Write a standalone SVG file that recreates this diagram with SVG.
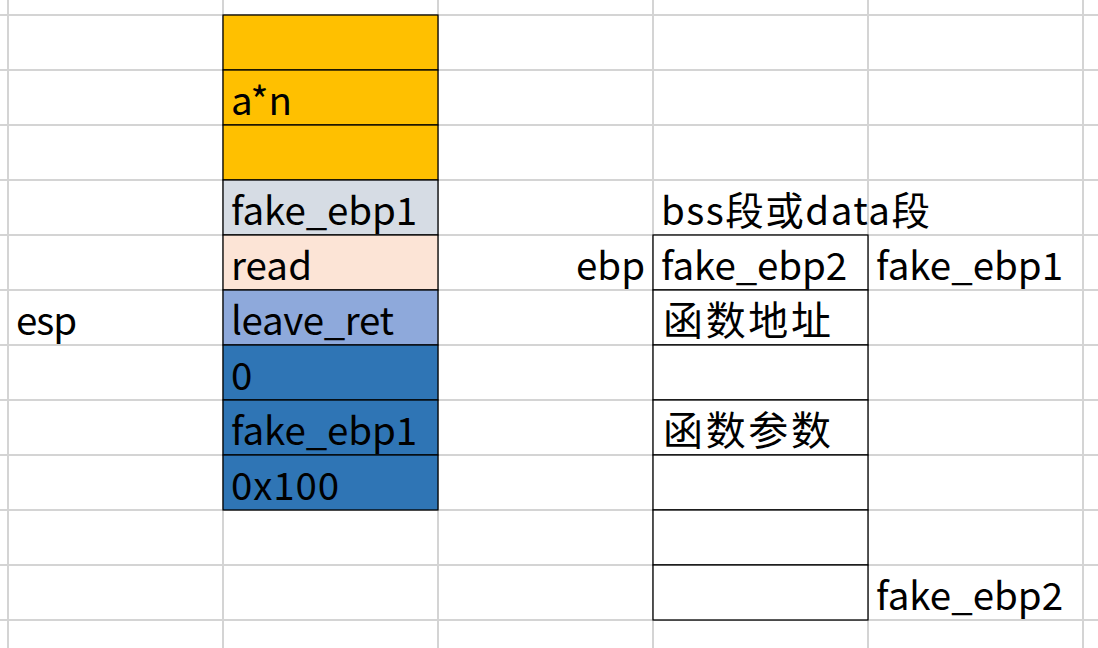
<svg xmlns="http://www.w3.org/2000/svg" width="1098" height="648" viewBox="0 0 1098 648">
<style>
.grid{stroke:#d4d4d4;stroke-width:2;fill:none}
.cell{stroke:#000;stroke-width:1.3}
.t{font-family:"Noto Sans CJK SC","Liberation Sans",sans-serif;font-size:38.5px;fill:#000}
.c{font-size:40px}
</style>
<rect width="1098" height="648" fill="#fff"/>
<g id="grid" class="grid">
<path d="M8 0V648M223 0V648M438 0V648M653 0V648M868 0V648M1083 0V648"/>
<path d="M0 15H1098M0 70H1098M0 125H1098M0 180H1098M0 235H1098M0 290H1098M0 345H1098M0 400H1098M0 455H1098M0 510H1098M0 565H1098M0 620H1098"/>
</g>
<g id="stack">
<rect class="cell" x="223" y="15" width="215" height="55" fill="#FFC000"/>
<rect class="cell" x="223" y="70" width="215" height="55" fill="#FFC000"/>
<rect class="cell" x="223" y="125" width="215" height="55" fill="#FFC000"/>
<rect class="cell" x="223" y="180" width="215" height="55" fill="#D6DCE4"/>
<rect class="cell" x="223" y="235" width="215" height="55" fill="#FCE4D6"/>
<rect class="cell" x="223" y="290" width="215" height="55" fill="#8EA9DB"/>
<rect class="cell" x="223" y="345" width="215" height="55" fill="#2F75B5"/>
<rect class="cell" x="223" y="400" width="215" height="55" fill="#2F75B5"/>
<rect class="cell" x="223" y="455" width="215" height="55" fill="#2F75B5"/>
<text class="t" x="231" y="115" textLength="61">a*n</text>
<text class="t" x="231" y="225" textLength="186">fake_ebp1</text>
<text class="t" x="231" y="280" textLength="81">read</text>
<text class="t" x="231" y="335" textLength="163">leave_ret</text>
<text class="t" x="231" y="390">0</text>
<text class="t" x="231" y="445" textLength="186">fake_ebp1</text>
<text class="t" x="231" y="500" textLength="108">0x100</text>
</g>
<g id="esp"><text class="t" x="16" y="335" textLength="61">esp</text></g>
<g id="ebp"><text class="t" x="576" y="280" textLength="69">ebp</text></g>
<g id="bss">
<text class="t" x="661" y="225" textLength="269">bss段或data段</text>
<rect class="cell" x="653" y="235" width="215" height="55" fill="#fff"/>
<rect class="cell" x="653" y="290" width="215" height="55" fill="#fff"/>
<rect class="cell" x="653" y="345" width="215" height="55" fill="#fff"/>
<rect class="cell" x="653" y="400" width="215" height="55" fill="#fff"/>
<rect class="cell" x="653" y="455" width="215" height="55" fill="#fff"/>
<rect class="cell" x="653" y="510" width="215" height="55" fill="#fff"/>
<rect class="cell" x="653" y="565" width="215" height="55" fill="#fff"/>
<text class="t" x="661" y="280" textLength="186">fake_ebp2</text>
<text class="t c" x="663" y="335" textLength="168">函数地址</text>
<text class="t c" x="663" y="445" textLength="168">函数参数</text>
</g>
<g id="labels">
<text class="t" x="876" y="280" textLength="187">fake_ebp1</text>
<text class="t" x="876" y="610" textLength="187">fake_ebp2</text>
</g>
<g id="connectors"/>
</svg>
